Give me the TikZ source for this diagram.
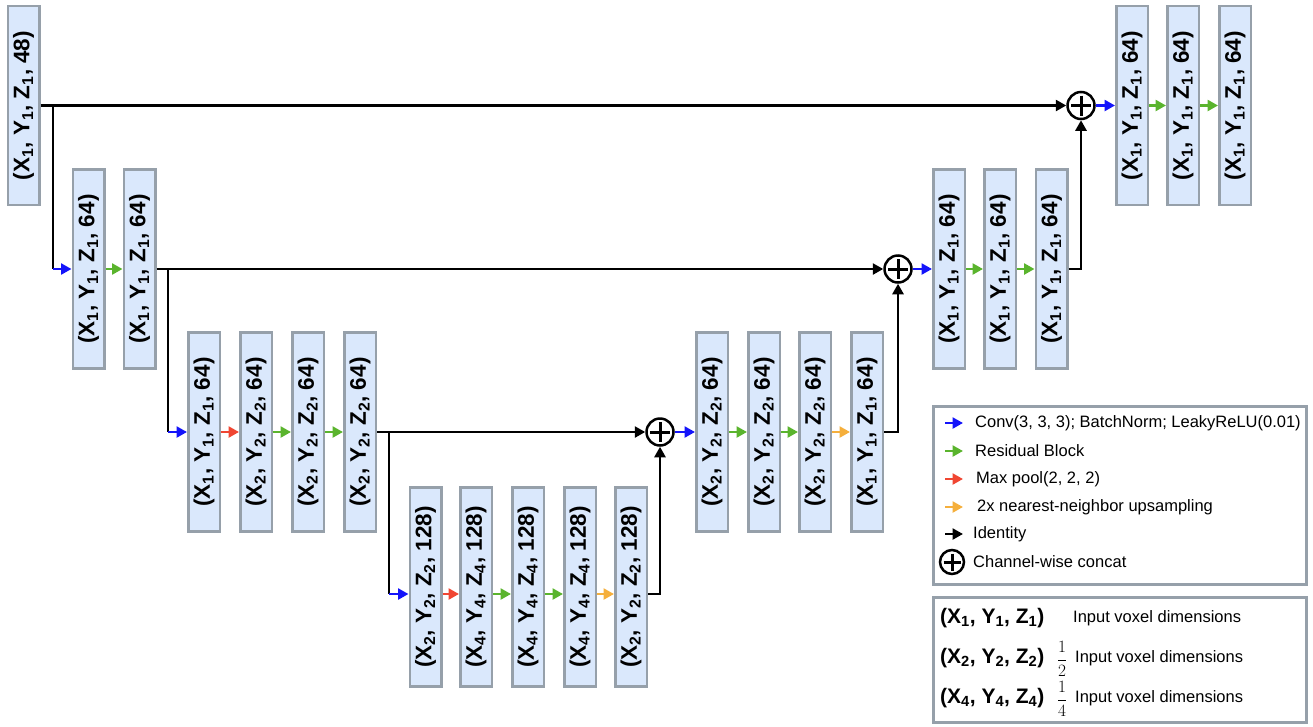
\documentclass[tikz,border=0pt]{standalone}
\usepackage{fontspec}
\setmainfont{Liberation Sans}
\usetikzlibrary{arrows.meta}
\definecolor{boxfill}{RGB}{218,232,252}
\definecolor{boxline}{RGB}{150,160,170}
\definecolor{cblue}{RGB}{20,20,250}
\definecolor{cgreen}{RGB}{90,180,45}
\definecolor{cred}{RGB}{240,70,50}
\definecolor{corange}{RGB}{245,175,60}
\newcommand{\dimlbl}[2]{(X\textsubscript{#1}, Y\textsubscript{#1}, Z\textsubscript{#1}, #2)}
\newcommand{\dimtri}[1]{(X\textsubscript{#1}, Y\textsubscript{#1}, Z\textsubscript{#1})}
\begin{document}
\begin{tikzpicture}[x=1pt,y=-1pt,
  fm/.style={draw=boxline, fill=boxfill, line width=2.5pt, minimum width=31.5pt, minimum height=199pt,
     inner sep=0pt},
  fmtext/.style={rotate=90, font=\fontsize{22.5}{25}\selectfont\bfseries},
  blk/.style={line width=2.5pt, black},
  tip/.style={-{Triangle[length=10.5pt,width=11pt]}},
  barr/.style={blk, tip, cblue},
  garr/.style={blk, tip, cgreen},
  rarr/.style={blk, tip, cred},
  oarr/.style={blk, tip, corange},
  karr/.style={blk, tip},
  concat/.style={circle, draw, line width=2.5pt, minimum size=#1, inner sep=0pt, fill=white,
     path picture={\draw[line width=3pt]
       ([yshift=-3.5pt]path picture bounding box.north) -- ([yshift=3.5pt]path picture bounding box.south)
       ([xshift=3.5pt]path picture bounding box.west) -- ([xshift=-3.5pt]path picture bounding box.east);}},
  concat/.default=27pt,
  legtext/.style={anchor=west, inner sep=0pt, font=\fontsize{16.5}{19}\selectfont},
  legbold/.style={anchor=west, inner sep=0pt, font=\fontsize{21}{24}\selectfont\bfseries},
  legframe/.style={draw=boxline, line width=2.5pt, anchor=north west, inner sep=0pt},
  fracnode/.style={inner sep=0pt, font=\fontsize{16.5}{19}\selectfont}
]
\useasboundingbox (0,0) rectangle (1313,726);

% feature maps
\node[fm] (A0) at (23.5,105.5) {}; \node[fmtext] at (A0) {\dimlbl{1}{48}};
\node[fm] (B1) at (88.5,269) {};   \node[fmtext] at (B1) {\dimlbl{1}{64}};
\node[fm] (B2) at (139.5,269) {};  \node[fmtext] at (B2) {\dimlbl{1}{64}};

\node[fm] (C1) at (204,432) {}; \node[fmtext] at (C1) {\dimlbl{1}{64}};
\node[fm] (C2) at (256,432) {}; \node[fmtext] at (C2) {\dimlbl{2}{64}};
\node[fm] (C3) at (308,432) {}; \node[fmtext] at (C3) {\dimlbl{2}{64}};
\node[fm] (C4) at (360,432) {}; \node[fmtext] at (C4) {\dimlbl{2}{64}};

\node[fm] (D1) at (425.5,587) {}; \node[fmtext] at (D1) {\dimlbl{2}{128}};
\node[fm] (D2) at (476,587) {};   \node[fmtext] at (D2) {\dimlbl{4}{128}};
\node[fm] (D3) at (528,587) {};   \node[fmtext] at (D3) {\dimlbl{4}{128}};
\node[fm] (D4) at (580,587) {};   \node[fmtext] at (D4) {\dimlbl{4}{128}};
\node[fm] (D5) at (631,587) {};   \node[fmtext] at (D5) {\dimlbl{2}{128}};

\node[fm] (E1) at (712,432) {}; \node[fmtext] at (E1) {\dimlbl{2}{64}};
\node[fm] (E2) at (764,432) {}; \node[fmtext] at (E2) {\dimlbl{2}{64}};
\node[fm] (E3) at (815,432) {}; \node[fmtext] at (E3) {\dimlbl{2}{64}};
\node[fm] (E4) at (867,432) {}; \node[fmtext] at (E4) {\dimlbl{1}{64}};

\node[fm] (F1) at (949,269) {};    \node[fmtext] at (F1) {\dimlbl{1}{64}};
\node[fm] (F2) at (1000,269) {};   \node[fmtext] at (F2) {\dimlbl{1}{64}};
\node[fm] (F3) at (1051.5,269) {}; \node[fmtext] at (F3) {\dimlbl{1}{64}};

\node[fm] (G1) at (1132,105.5) {}; \node[fmtext] at (G1) {\dimlbl{1}{64}};
\node[fm] (G2) at (1183,105.5) {}; \node[fmtext] at (G2) {\dimlbl{1}{64}};
\node[fm] (G3) at (1235,105.5) {}; \node[fmtext] at (G3) {\dimlbl{1}{64}};

% concat nodes
\node[concat] (P1) at (1081,105.5) {};
\node[concat] (P2) at (898,269) {};
\node[concat] (P3) at (660,432) {};

% junctions
\coordinate (j1) at (53,105.5);
\coordinate (j2) at (168,269);
\coordinate (j3) at (389,432);

% level 1
\draw[karr] (A0.east) -- (P1.west);
\draw[blk] (j1) -- (j1 |- B1.west);
\draw[barr] (j1 |- B1.west) -- (B1.west);
\draw[garr] (B1.east) -- (B2.west);
% level 2
\draw[karr] (B2.east) -- (P2.west);
\draw[blk] (j2) -- (j2 |- C1.west);
\draw[barr] (j2 |- C1.west) -- (C1.west);
\draw[rarr] (C1.east) -- (C2.west);
\draw[garr] (C2.east) -- (C3.west);
\draw[garr] (C3.east) -- (C4.west);
% level 3
\draw[karr] (C4.east) -- (P3.west);
\draw[blk] (j3) -- (j3 |- 0,594);
\draw[barr] (j3 |- 0,594) -- ([yshift=-7pt]D1.west);
\draw[rarr] ([yshift=-7pt]D1.east) -- ([yshift=-7pt]D2.west);
\draw[garr] ([yshift=-7pt]D2.east) -- ([yshift=-7pt]D3.west);
\draw[garr] ([yshift=-7pt]D3.east) -- ([yshift=-7pt]D4.west);
\draw[oarr] ([yshift=-7pt]D4.east) -- ([yshift=-7pt]D5.west);
\draw[karr] ([yshift=-7pt]D5.east) -| (P3.south);
% decoder level 3
\draw[barr] (P3.east) -- (E1.west);
\draw[garr] (E1.east) -- (E2.west);
\draw[garr] (E2.east) -- (E3.west);
\draw[oarr] (E3.east) -- (E4.west);
\draw[karr] (E4.east) -| (P2.south);
% decoder level 2
\draw[barr] (P2.east) -- (F1.west);
\draw[garr] (F1.east) -- (F2.west);
\draw[garr] (F2.east) -- (F3.west);
\draw[karr] (F3.east) -| (P1.south);
% decoder level 1
\draw[barr] (P1.east) -- (G1.west);
\draw[garr] (G1.east) -- (G2.west);
\draw[garr] (G2.east) -- (G3.west);

% legend 1
\node[legframe, minimum width=373pt, minimum height=178pt] (LG1) at (932,405) {};
\node[legtext] (L1) at (975,423) {Conv(3, 3, 3); BatchNorm; LeakyReLU(0.01)};
\node[legtext] (L2) at (975,451) {Residual Block};
\node[legtext] (L3) at (976,479) {Max pool(2, 2, 2)};
\node[legtext] (L4) at (977,507) {2x nearest-neighbor upsampling};
\node[legtext] (L5) at (973,534) {Identity};
\node[concat=24pt] (LP) at (952,562) {};
\node[legtext] (L6) at (973,562) {Channel-wise concat};
\coordinate (a1) at (945,423); \coordinate (b1) at (963,423);
\coordinate (a2) at (945,451); \coordinate (b2) at (963,451);
\coordinate (a3) at (945,479); \coordinate (b3) at (963,479);
\coordinate (a4) at (945,507); \coordinate (b4) at (963,507);
\coordinate (a5) at (945,534); \coordinate (b5) at (963,534);
\draw[barr] (a1) -- (b1);
\draw[garr] (a2) -- (b2);
\draw[rarr] (a3) -- (b3);
\draw[oarr] (a4) -- (b4);
\draw[karr] (a5) -- (b5);

% legend 2
\node[legframe, minimum width=373pt, minimum height=125pt] (LG2) at (932,596) {};
\node[legbold] (M1) at (940,618) {\dimtri{1}};
\node[legbold] (M2) at (940,658) {\dimtri{2}};
\node[legbold] (M3) at (940,698) {\dimtri{4}};
\node[legtext] (N1) at (1073,618) {Input voxel dimensions};
\node[fracnode] (Q2) at (1062,659) {$\displaystyle\frac{1}{2}$};
\node[legtext] (N2) at (1075,658) {Input voxel dimensions};
\node[fracnode] (Q3) at (1062,699) {$\displaystyle\frac{1}{4}$};
\node[legtext] (N3) at (1075,698) {Input voxel dimensions};
\end{tikzpicture}
\end{document}
